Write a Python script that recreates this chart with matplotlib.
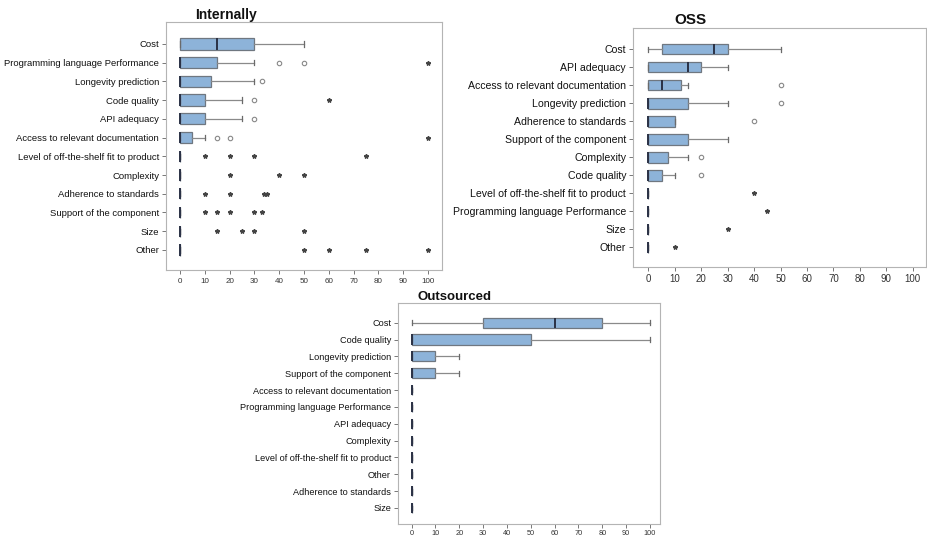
import numpy as np
import matplotlib
matplotlib.use("Agg")
import matplotlib.pyplot as plt

plt.rcParams['font.family'] = ['Liberation Sans', 'DejaVu Sans']

# ---- Internally ----
int_labels = ["Cost", "Programming language Performance", "Longevity prediction",
              "Code quality", "API adequacy", "Access to relevant documentation",
              "Level of off-the-shelf fit to product", "Complexity",
              "Adherence to standards", "Support of the component", "Size", "Other"]
int_lo = [0, 0, 0, 0, 0, 0, 0, 0, 0, 0, 0, 0]
int_q1 = [0, 0, 0, 0, 0, 0, 0, 0, 0, 0, 0, 0]
int_med = [15, 0, 0, 0, 0, 0, 0, 0, 0, 0, 0, 0]
int_q3 = [30, 15, 12.5, 10, 10, 5, 0, 0, 0, 0, 0, 0]
int_hi = [50, 30, 30, 25, 25, 10, 0, 0, 0, 0, 0, 0]
int_circles = [[], [40, 50], [33], [30], [30], [15, 20], [], [], [], [], [], []]
int_stars = [[], [100], [], [60], [], [100], [10, 20, 30, 75], [20, 40, 50],
             [10, 20, 34, 35], [10, 15, 20, 30, 33], [15, 25, 30, 50],
             [50, 60, 75, 100]]

# ---- OSS ----
oss_labels = ["Cost", "API adequacy", "Access to relevant documentation",
              "Longevity prediction", "Adherence to standards",
              "Support of the component", "Complexity", "Code quality",
              "Level of off-the-shelf fit to product",
              "Programming language Performance", "Size", "Other"]
oss_lo = [0, 0, 0, 0, 0, 0, 0, 0, 0, 0, 0, 0]
oss_q1 = [5, 0, 0, 0, 0, 0, 0, 0, 0, 0, 0, 0]
oss_med = [25, 15, 5, 0, 0, 0, 0, 0, 0, 0, 0, 0]
oss_q3 = [30, 20, 12.5, 15, 10, 15, 7.5, 5, 0, 0, 0, 0]
oss_hi = [50, 30, 15, 30, 10, 30, 15, 10, 0, 0, 0, 0]
oss_circles = [[], [], [50], [50], [40], [], [20], [20], [], [], [], []]
oss_stars = [[], [], [], [], [], [], [], [], [40], [45], [30], [10]]

# ---- Outsourced ----
out_labels = ["Cost", "Code quality", "Longevity prediction",
              "Support of the component", "Access to relevant documentation",
              "Programming language Performance", "API adequacy", "Complexity",
              "Level of off-the-shelf fit to product", "Other",
              "Adherence to standards", "Size"]
out_lo = [0, 0, 0, 0, 0, 0, 0, 0, 0, 0, 0, 0]
out_q1 = [30, 0, 0, 0, 0, 0, 0, 0, 0, 0, 0, 0]
out_med = [60, 0, 0, 0, 0, 0, 0, 0, 0, 0, 0, 0]
out_q3 = [80, 50, 10, 10, 0, 0, 0, 0, 0, 0, 0, 0]
out_hi = [100, 100, 20, 20, 0, 0, 0, 0, 0, 0, 0, 0]
out_circles = [[] for _ in range(12)]
out_stars = [[] for _ in range(12)]

xticks = list(range(0, 101, 10))

BOX_FILL = "#8db3d9"
EDGE = "#6f7780"
MEDIAN = "#2a3145"
FRAME = "#b4b4b4"


def draw_panel(rect, title, title_xy, title_size, labels, lo, q1, med, q3, hi,
               circles, stars, xlim, ylim, lab_size, tick_size, pad=2):
    ax = fig.add_axes(rect)
    stats = []
    for i in range(len(labels)):
        stats.append(dict(whislo=lo[i], q1=q1[i], med=med[i], q3=q3[i],
                          whishi=hi[i], fliers=circles[i]))
    pos = np.arange(len(labels))
    ax.bxp(stats, positions=pos, vert=False, widths=0.6, patch_artist=True,
           capwidths=0.28,
           boxprops=dict(facecolor=BOX_FILL, edgecolor=EDGE, linewidth=0.9),
           medianprops=dict(color=MEDIAN, linewidth=1.4),
           whiskerprops=dict(color="#8a8a8a", linewidth=0.9),
           capprops=dict(color="#6a6a6a", linewidth=0.9),
           flierprops=dict(marker="o", markersize=3.2, markerfacecolor="none",
                           markeredgecolor="#888888", markeredgewidth=0.8))
    for i, s in enumerate(stars):
        if s:
            ax.plot(s, [pos[i]] * len(s), linestyle="none", marker="*",
                    markersize=3.2, color="#444444")
    ax.set_xlim(*xlim)
    ax.set_ylim(*ylim)
    ax.set_yticks(pos)
    ax.set_yticklabels(labels, fontsize=lab_size, color="#111111")
    ax.set_xticks(xticks)
    ax.set_xticklabels([str(t) for t in xticks], fontsize=tick_size,
                       color="#333333")
    ax.tick_params(axis="both", length=3, width=0.7, color="#777777", pad=2)
    ax.tick_params(axis="x", pad=pad)
    for sp in ax.spines.values():
        sp.set_color(FRAME)
        sp.set_linewidth(0.8)
    fig.text(title_xy[0] / 927, 1 - title_xy[1] / 538, title,
             fontsize=title_size, fontweight="bold", ha="center", va="center",
             color="#111111")
    return ax


fig = plt.figure(figsize=(9.27, 5.38), dpi=100)

draw_panel([166 / 927, 1 - 270 / 538, 276 / 927, 248 / 538], "Internally",
           (226, 15), 10, int_labels, int_lo, int_q1, int_med, int_q3, int_hi,
           int_circles, int_stars, (-5.6, 105.6), (12.07, -1.17), 6.8, 5.8, 3)

draw_panel([633 / 927, 1 - 267 / 538, 293 / 927, 239 / 538], "OSS",
           (690, 20), 11, oss_labels, oss_lo, oss_q1, oss_med, oss_q3, oss_hi,
           oss_circles, oss_stars, (-5.8, 105.0), (12.1, -1.17), 7.55, 7)

draw_panel([398 / 927, 14 / 538, 262 / 927, 221 / 538], "Outsourced",
           (455, 297), 9.5, out_labels, out_lo, out_q1, out_med, out_q3, out_hi,
           out_circles, out_stars, (-5.7, 104.2), (11.95, -1.17), 6.6, 5.3, 1)

fig.savefig("out.png", dpi=100)
